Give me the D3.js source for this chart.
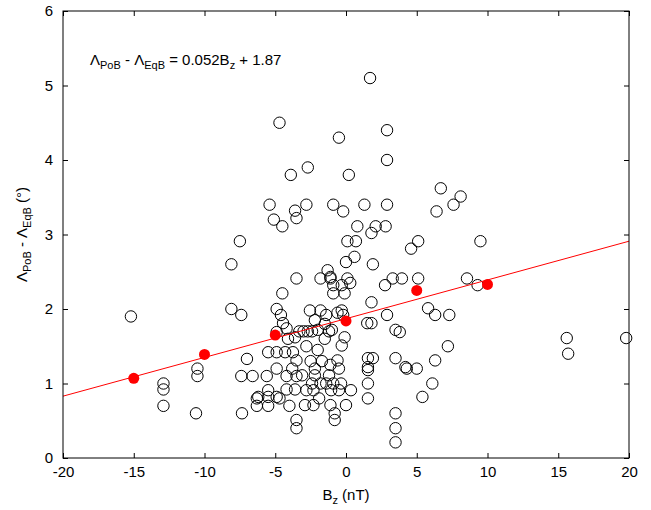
<!DOCTYPE html>
<html>
<head>
<meta charset="utf-8">
<script src="https://cdn.jsdelivr.net/npm/d3@7"></script>
<style>
body { margin: 0; background: #fff; }
text { font-family: "Liberation Sans", Arial, sans-serif; }
</style>
</head>
<body>
<script>
// scatter points: Bz (nT), Lambda difference (deg)
var bz = [
  -15.2, -12.9, -12.9, -12.9, -10.5, -10.5, -10.6, -8.1, -8.1, -7.5, -7.4, -7.0, -7.4, -6.6, -7.35,
  -6.3, -6.3, -6.2, -5.5, -5.5, -5.5, -4.9, -4.7, -4.0, -4.2, -3.6, -3.5, -3.5,
  -5.5, -4.9, -4.3, -3.75, -5.6, -4.2, -3.5, -4.9, -3.8,
  -4.9, -4.6, -4.45, -4.2, -4.9, -4.1, -4.5, -3.5, -3.5, -3.0, -2.7, -3.3, -3.6, -2.4, -2.0,
  -2.8, -2.0, -1.5, -1.2, -1.0, -1.5, -2.2, -2.55, -1.8, -1.4, -0.6, -0.3, -0.2,
  -2.5, -1.7, -1.1, -0.5, -2.2,
  -2.9, -2.3, -1.1, 0.0, -1.9, -2.8, -2.3, -1.05, -0.5, 0.35,
  -2.4, -1.8, -1.4, -0.9, -0.35, -3.1, -2.2, -1.2, -0.8, -0.8,
  -1.8, -1.1, -0.9, -0.3, -0.1, -0.9, 0.1, 0.3, -0.1, -0.3, -0.6, -1.3, -1.1, 0.0, 0.6, 1.9,
  1.55, 1.55, 1.9, 1.5, 1.8, 2.9, 1.8, 2.76, 3.3, 3.95, 3.5, 4.2, 3.5, 1.55, 1.55, 1.55,
  3.5, 3.5, 3.5, 3.8,
  -4.7, 1.7, -0.5, 2.9, 2.9, -2.7, -3.9, 0.2,
  -5.4, -2.8, -0.9, 1.3, 2.9, -3.6, -3.5, -5.1, -4.5, -0.2, 0.8, 2.1, 2.8, 1.8, 0.1, 0.7, 5.1, 4.6,
  6.7, 8.1, 7.6, 6.4, 9.5, 5.1, 8.55, 9.3,
  5.8, 6.3, 7.3, 7.2, 6.3, 4.3, 5.0, 6.1, 5.4,
  15.6, 15.7, 19.8
];
var dLambda = [
  1.9, 1.0, 0.92, 0.7, 1.2, 1.1, 0.6, 2.6, 2.0, 2.91, 1.92, 1.33, 1.1, 1.1, 0.6,
  0.8, 0.7, 0.82, 0.7, 0.82, 0.91, 0.82, 0.8, 0.7, 0.92, 0.92, 0.51, 0.4,
  1.42, 1.42, 1.42, 1.42, 1.1, 1.1, 1.1, 1.2, 1.2,
  2.0, 1.92, 1.81, 1.74, 1.69, 1.6, 2.21, 2.41, 1.31, 1.7, 1.7, 1.7, 1.62, 1.7, 1.72,
  1.5, 1.45, 1.6, 1.7, 1.72, 1.8, 1.85, 1.98, 1.98, 1.92, 1.95, 1.98, 1.92,
  1.3, 1.3, 1.25, 1.2, 1.2,
  0.71, 0.71, 0.71, 0.71, 0.8, 0.91, 0.91, 0.91, 0.91, 0.91,
  1.0, 1.0, 1.0, 1.0, 1.0, 1.11, 1.11, 1.11, 0.6, 0.51,
  2.41, 2.41, 2.32, 2.32, 2.21, 2.21, 2.41, 2.35, 1.62, 1.51, 1.31, 2.52, 2.43, 2.63, 2.7, 2.6,
  1.34, 1.22, 1.34, 1.81, 1.81, 1.92, 2.09, 2.32, 2.41, 2.41, 1.72, 1.22, 1.34, 1.18, 1.0, 0.8,
  0.6, 0.4, 0.21, 1.69,
  4.5, 5.1, 4.3, 4.4, 4.0, 3.9, 3.8, 3.8,
  3.4, 3.4, 3.4, 3.4, 3.4, 3.32, 3.22, 3.2, 3.11, 3.31, 3.11, 3.11, 3.11, 3.02, 2.91, 2.91, 2.91, 2.81,
  3.62, 3.51, 3.4, 3.31, 2.91, 2.41, 2.41, 2.32,
  2.01, 1.92, 1.92, 1.5, 1.31, 1.2, 1.2, 1.0, 0.82,
  1.61, 1.4, 1.61
];

// bin means (red)
var binBz = [-15, -10, -5, 0, 5, 10];
var binMean = [1.07, 1.39, 1.65, 1.84, 2.25, 2.33];

// fit: 0.052 Bz + 1.87
var fitSlope = 0.052, fitIntercept = 1.87;

var xTicks = [-20, -15, -10, -5, 0, 5, 10, 15, 20];
var yTicks = [0, 1, 2, 3, 4, 5, 6];

var W = 651, H = 510;
var pLeft = 63, pRight = 629, pTop = 11, pBottom = 458;

var svg = d3.select("body").append("svg")
    .attr("width", W)
    .attr("height", H);

var x = d3.scaleLinear().domain([-20, 20]).range([pLeft, pRight]);
var y = d3.scaleLinear().domain([0, 6]).range([pBottom, pTop]);

// clip for the fit line
svg.append("clipPath").attr("id", "plotclip")
  .append("rect")
    .attr("x", pLeft).attr("y", pTop)
    .attr("width", pRight - pLeft).attr("height", pBottom - pTop);

// scatter
var pts = bz.map(function(v, i) { return {bz: v, dl: dLambda[i]}; });
svg.append("g").selectAll("circle")
    .data(pts)
  .enter().append("circle")
    .attr("cx", function(d) { return x(d.bz); })
    .attr("cy", function(d) { return y(d.dl); })
    .attr("r", 5.7)
    .attr("fill", "none")
    .attr("stroke", "#000")
    .attr("stroke-width", 1);

// regression line
var fitLine = d3.line()
    .x(function(d) { return x(d); })
    .y(function(d) { return y(fitSlope * d + fitIntercept); });
svg.append("path")
    .datum([-20, 20])
    .attr("d", fitLine)
    .attr("clip-path", "url(#plotclip)")
    .attr("fill", "none")
    .attr("stroke", "#ff0000")
    .attr("stroke-width", 1);

// red means
svg.append("g").selectAll("circle")
    .data(binBz)
  .enter().append("circle")
    .attr("cx", function(d) { return x(d); })
    .attr("cy", function(d, i) { return y(binMean[i]); })
    .attr("r", 5.5)
    .attr("fill", "#ff0000");

// axes, MATLAB style: inward ticks on all four sides
var tk = 5;
var fmt = function(d) { return String(d); };
svg.append("g")
    .attr("transform", "translate(0," + pBottom + ")")
    .call(d3.axisBottom(x).tickValues(xTicks).tickFormat(fmt).tickSizeInner(-tk).tickSizeOuter(0).tickPadding(8))
    .call(function(g) {
      g.select(".domain").remove();
      g.selectAll("text").attr("font-size", 15).attr("fill", "#000")
        .attr("font-family", "Liberation Sans, Arial, sans-serif");
    });
svg.append("g")
    .attr("transform", "translate(0," + pTop + ")")
    .call(d3.axisTop(x).tickValues(xTicks).tickSizeInner(-tk).tickSizeOuter(0).tickFormat(""))
    .call(function(g) { g.select(".domain").remove(); });
svg.append("g")
    .attr("transform", "translate(" + pLeft + ",0)")
    .call(d3.axisLeft(y).tickValues(yTicks).tickFormat(fmt).tickSizeInner(-tk).tickSizeOuter(0).tickPadding(10))
    .call(function(g) {
      g.select(".domain").remove();
      g.selectAll("text").attr("font-size", 15).attr("fill", "#000")
        .attr("font-family", "Liberation Sans, Arial, sans-serif");
    });
svg.append("g")
    .attr("transform", "translate(" + pRight + ",0)")
    .call(d3.axisRight(y).tickValues(yTicks).tickSizeInner(-tk).tickSizeOuter(0).tickFormat(""))
    .call(function(g) { g.select(".domain").remove(); });

svg.append("rect")
    .attr("x", pLeft).attr("y", pTop)
    .attr("width", pRight - pLeft).attr("height", pBottom - pTop)
    .attr("fill", "none")
    .attr("stroke", "#000")
    .attr("stroke-width", 1);

// x label
var xl = svg.append("text")
    .attr("x", (pLeft + pRight) / 2)
    .attr("y", 500)
    .attr("text-anchor", "middle")
    .attr("font-size", 15);
xl.append("tspan").text("B");
xl.append("tspan").attr("dy", 4).attr("font-size", 11).text("z");
xl.append("tspan").attr("dy", -4).text(" (nT)");

// y label
var yl = svg.append("text")
    .attr("transform", "translate(27," + ((pTop + pBottom) / 2) + ") rotate(-90)")
    .attr("text-anchor", "middle")
    .attr("font-size", 15);
yl.append("tspan").text("\u039B");
yl.append("tspan").attr("dy", 4).attr("font-size", 11).text("PoB");
yl.append("tspan").attr("dy", -4).text(" - \u039B");
yl.append("tspan").attr("dy", 4).attr("font-size", 11).text("EqB");
yl.append("tspan").attr("dy", -4).text(" (\u00B0)");

// equation
var eq = svg.append("text")
    .attr("x", 90)
    .attr("y", 65)
    .attr("font-size", 15);
eq.append("tspan").text("\u039B");
eq.append("tspan").attr("dy", 4).attr("font-size", 11).text("PoB");
eq.append("tspan").attr("dy", -4).text(" - \u039B");
eq.append("tspan").attr("dy", 4).attr("font-size", 11).text("EqB");
eq.append("tspan").attr("dy", -4).text(" = 0.052B");
eq.append("tspan").attr("dy", 4).attr("font-size", 11).text("z");
eq.append("tspan").attr("dy", -4).text(" + 1.87");
</script>
</body>
</html>
